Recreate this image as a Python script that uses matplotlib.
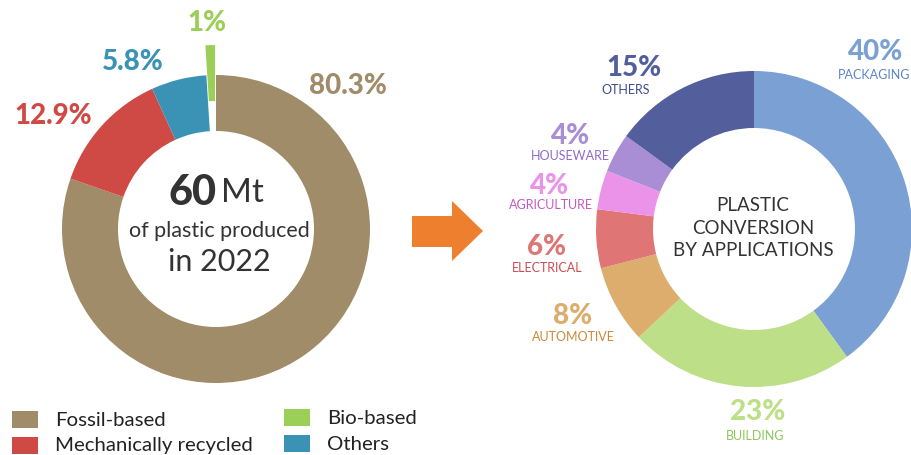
import matplotlib
matplotlib.use("Agg")
import matplotlib.pyplot as plt
from matplotlib.patches import Polygon, Rectangle

plt.rcParams['font.family'] = ['Lato', 'DejaVu Sans']

# Left donut: plastic production by source
prod_labels = ["Fossil-based", "Mechanically recycled", "Others", "Bio-based"]
prod_values = [80.3, 12.9, 5.8, 1.0]
prod_colors = ["#A08C69", "#D04A45", "#3A93B5", "#9CCF58"]
prod_pct = ["80.3%", "12.9%", "5.8%", "1%"]

# Right donut: plastic conversion by applications
app_labels = ["PACKAGING", "BUILDING", "AUTOMOTIVE", "ELECTRICAL", "AGRICULTURE", "HOUSEWARE", "OTHERS"]
app_values = [40, 23, 8, 6, 4, 4, 15]
app_colors = ["#7BA1D4", "#BCDF87", "#DDAD6D", "#E07576", "#EA93E8", "#A98ED6", "#525F9C"]
app_text_colors = ["#5B85C5", "#8DC85A", "#C98A3A", "#D04B50", "#C45AC0", "#8F6BC9", "#3E4B8C"]

W, H = 912, 455


def py(y):
    # pixel row (from top) -> data y
    return H - y


fig = plt.figure(figsize=(9.12, 4.55), dpi=100)
ax = fig.add_axes([0, 0, 1, 1])

# left donut
ax.pie(prod_values, colors=prod_colors, startangle=90, counterclock=False,
       center=(216, py(229)), radius=154, explode=[0, 0, 0, 30],
       wedgeprops=dict(width=56, linewidth=0))

# right donut
ax.pie(app_values, colors=app_colors, startangle=90, counterclock=False,
       center=(754, py(229)), radius=158,
       wedgeprops=dict(width=57, linewidth=0))

ax.set_xlim(0, W)
ax.set_ylim(0, H)
ax.set_aspect("equal")
ax.axis("off")

# percentage labels on the left
left_pos = [(348, 86), (53, 116), (133, 62), (207, 23)]
for txt, c, (x, y) in zip(prod_pct, prod_colors, left_pos):
    ax.text(x, py(y), txt, color=c, fontsize=20, fontweight="black",
            ha="center", va="center")

# center text left
ax.text(217, py(193), "60", fontsize=30, fontweight="black", color="#333333",
        ha="right", va="center")
ax.text(221, py(193), "Mt", fontsize=24, color="#333333", ha="left", va="center")
ax.text(219, py(231), "of plastic produced", fontsize=15.5, color="#333333",
        ha="center", va="center")
ax.text(219, py(262), "in 2022", fontsize=22, color="#333333",
        ha="center", va="center")

# right labels
pct_pos = [(876, 52), (758, 412), (573, 316), (547, 247), (550, 186), (571, 136), (634, 68)]
name_pos = [(910, 75), (755, 436), (573, 337), (547, 268), (551, 205), (570, 156), (626, 90)]
for i, lab in enumerate(app_labels):
    x, y = pct_pos[i]
    ax.text(x, py(y), f"{app_values[i]}%", color=app_colors[i], fontsize=20,
            fontweight="black", ha="center", va="center")
    x, y = name_pos[i]
    ax.text(x, py(y), lab, color=app_text_colors[i], fontsize=9,
            ha="right" if lab == "PACKAGING" else "center", va="center")

for txt, y in [("PLASTIC", 206), ("CONVERSION", 229), ("BY APPLICATIONS", 251)]:
    ax.text(753, py(y), txt, fontsize=13.5, color="#333333", ha="center", va="center")

# orange arrow
arrow = [(412, 216), (452, 216), (452, 201), (483, 231), (452, 261), (452, 247), (412, 247)]
ax.add_patch(Polygon([(x, py(y)) for x, y in arrow], closed=True,
                     facecolor="#EE7F2E", edgecolor="none"))

# legend
leg_pos = {"Fossil-based": (12, 411), "Mechanically recycled": (12, 437),
           "Bio-based": (284, 409), "Others": (284, 435)}
for lab, c in zip(prod_labels, prod_colors):
    x, y = leg_pos[lab]
    ax.add_patch(Rectangle((x, py(y + 17)), 26, 17, facecolor=c, edgecolor="none"))
    ax.text(x + 43, py(y + 9), lab, fontsize=14.7, color="#222222", ha="left", va="center")

fig.savefig("out.png", dpi=100)
